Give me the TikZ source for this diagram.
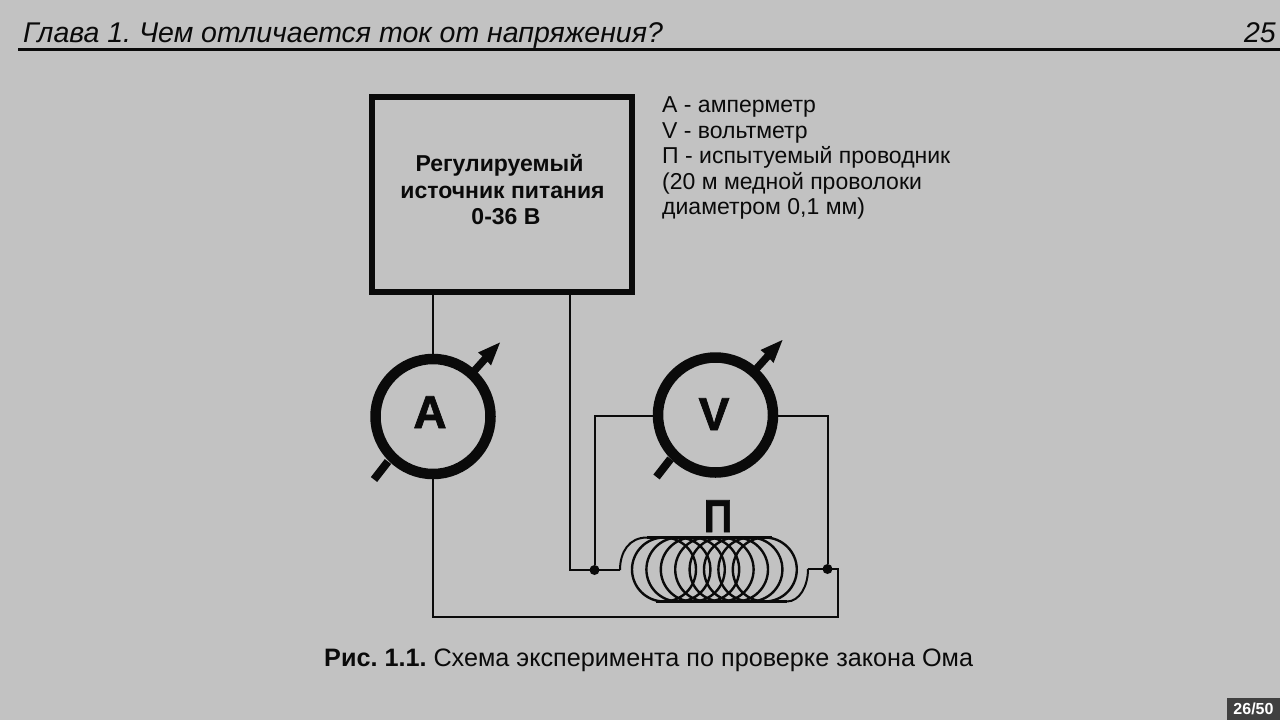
\documentclass[tikz,border=0pt]{standalone}
\usepackage{fontspec}
\setmainfont{Liberation Sans}
\newfontface\heavyface[FakeBold=1.6]{Liberation Sans Bold}
\frenchspacing
\definecolor{bg}{HTML}{C2C2C2}
\definecolor{ink}{HTML}{0A0A0A}
\definecolor{badge}{HTML}{404040}
\newcommand{\fs}[1]{\fontsize{#1}{#1}\selectfont}
\tikzset{
  wire/.style={draw=ink,line width=2pt,line join=miter},
  meter/.style={circle,draw=ink,line width=10.5pt,minimum size=115pt,inner sep=0pt,outer sep=0pt},
  metertext/.style={anchor=base,inner sep=0pt,text=ink,font=\fs{46}\heavyface},
  dot/.style={circle,fill=ink,minimum size=10pt,inner sep=0pt},
  pgbox/.style={draw=ink,line width=6.5pt,inner sep=0pt},
  txt/.style={anchor=base west,inner sep=0pt,text=ink},
  boxtext/.style={anchor=base,inner sep=0pt,text=ink,font=\fs{23}\bfseries},
  coilring/.style={draw=ink,line width=2.4pt}
}
\newcommand{\gaugemarks}[1]{%
  \begin{scope}[shift={(#1)}]
    \draw[ink,line width=8pt] (-59,63) -- (-45,45);
    \draw[ink,line width=7.5pt] (38,-42) -- (56,-62);
    \fill[ink] (67,-74) -- (45,-64) -- (51,-59) -- (58,-51) -- cycle;
  \end{scope}}
\begin{document}
\begin{tikzpicture}[x=1pt,y=-1pt]
\path[use as bounding box,fill=bg] (0,0) rectangle (1280,720);
% header
\node[txt,font=\fs{28.5}\itshape] (title) at (23,42) {Глава 1. Чем отличается ток от напряжения?};
\node[anchor=base east,inner sep=0pt,text=ink,font=\fs{28.5}\itshape] (pageno) at (1276,42) {25};
\coordinate (ruleL) at (18,49); \coordinate (ruleR) at (1280,49);
\draw[ink,line width=3pt] (ruleL) -- (ruleR);
% source box
\node[pgbox,minimum width=260pt,minimum height=195pt] (src) at (502,194.5) {};
\node[boxtext] (s1) at (499.5,171) {Регулируемый};
\node[boxtext] (s2) at (502.5,198) {источник питания};
\node[boxtext] (s3) at (506,224) {0-36 В};
% legend
\node[txt,font=\fs{23}] (l1) at (662,112) {А - амперметр};
\node[txt,font=\fs{23}] (l2) at (662,138) {V - вольтметр};
\node[txt,font=\fs{23}] (l3) at (662,163) {П - испытуемый проводник};
\node[txt,font=\fs{23}] (l4) at (662,189) {(20 м медной проволоки};
\node[txt,font=\fs{23}] (l5) at (662,214) {диаметром 0,1 мм)};
% meters
\node[meter] (A) at (433,416.5) {};
\node[meter] (V) at (715.5,415) {};
\gaugemarks{433,416.5}
\gaugemarks{715.5,414}
\node[metertext] (Atext) at (430,428) {A};
\node[metertext] (Vtext) at (714,430) {V};
\node[metertext,xscale=.86] (Ptext) at (718,532) {П};
% coil
\foreach \i in {0,...,7}{
  \draw[coilring] ({664+14.4*\i},569.5) circle[radius=32];
}
\coordinate (coilTL) at (647,537.5);
\coordinate (coilTR) at (772,537.5);
\coordinate (coilBL) at (656,601.5);
\coordinate (coilBR) at (787,601.5);
\draw[wire,line width=2.6pt] (coilTL) -- (coilTR);
\draw[wire,line width=2.6pt] (coilBL) -- (coilBR);
% junctions
\node[dot] (J1) at (594.5,570) {};
\node[dot] (J2) at (827.5,569) {};
\coordinate (leadL) at (620,570);
\coordinate (leadR) at (808,569);
\draw[wire] (leadL) .. controls (620,552) and (629,537.5) .. (coilTL);
\draw[wire] (leadR) .. controls (808,587) and (799,601.5) .. (coilBR);
% wires
\coordinate (srcA) at (433,295);
\coordinate (srcB) at (569.5,295);
\coordinate (cLeft) at (569.5,570);
\coordinate (vL) at (594.5,416);
\coordinate (vR) at (827.5,416);
\coordinate (cR) at (838,569);
\coordinate (cB) at (838,617);
\coordinate (cBL) at (433,617);
\draw[wire] (srcA) -- (A.north);
\draw[wire] (srcB) -- (cLeft) -- (leadL);
\draw[wire] (V.west |- vL) -- (vL) -- (J1);
\draw[wire] (V.east |- vR) -- (vR) -- (J2);
\draw[wire] (leadR) -- (cR) -- (cB) -- (cBL) -- (A.south);
% caption
\node[txt,font=\fs{25.2}] (cap) at (324,666) {\textbf{Рис. 1.1.} Схема эксперимента по проверке закона Ома};
% badge
\node[fill=badge,minimum width=53pt,minimum height=22pt,inner sep=0pt,text=white,font=\fs{16}\bfseries] (bd) at (1253.5,709) {26/50};
\end{tikzpicture}
\end{document}
